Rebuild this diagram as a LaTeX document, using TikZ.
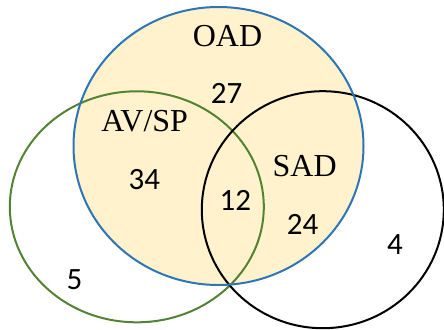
\documentclass[tikz,border=0pt]{standalone}
\usepackage{fontspec}
\setmainfont{Liberation Serif}
\newfontfamily\vennNumFont{Carlito}
\definecolor{vennBlue}{HTML}{2E75B6}
\definecolor{vennGreen}{HTML}{548235}
\definecolor{vennFill}{HTML}{FFF2CC}
\tikzset{
    setline/.style={line width=2pt},
    setname/.style={font=\fontsize{32}{32}\selectfont, inner sep=0pt},
    setcount/.style={font=\vennNumFont\fontsize{31}{31}\selectfont, inner sep=0pt}
}
\begin{document}
\begin{tikzpicture}[x=1pt, y=-1pt]
            \useasboundingbox (0,0) rectangle (444,329);

            \fill[vennFill] (218.5,146) ellipse [x radius=145, y radius=139];
            \draw[setline, vennGreen] (136.8,206.8) ellipse [x radius=127, y radius=115.5];
            \draw[setline, black] (322.8,209.7) ellipse [x radius=121, y radius=118.5];
            \draw[setline, vennBlue] (218.5,146) ellipse [x radius=145, y radius=139];

            \node[setname] (oad) at (227.5,36.3) {OAD};
            \node[setname] (avsp) at (144.7,120.8) {AV/SP};
            \node[setname] (sad) at (304.7,165.8) {SAD};

            \node[setcount] (n27) at (226.7,93.7) {27};
            \node[setcount] (n34) at (144.3,179.2) {34};
            \node[setcount] (n12) at (235.3,200) {12};
            \node[setcount] (n24) at (302.7,224.2) {24};
            \node[setcount] (n4) at (395,245) {4};
            \node[setcount] (n5) at (74.5,279.5) {5};
        \end{tikzpicture}
\end{document}
